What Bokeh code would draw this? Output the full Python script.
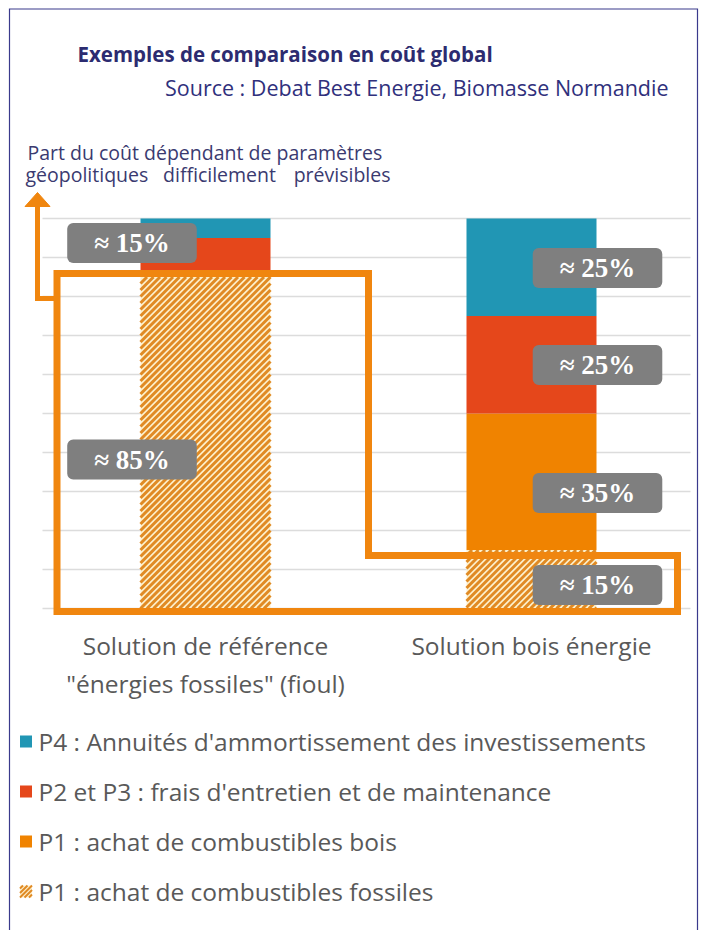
from bokeh.plotting import figure
from bokeh.models import Range1d, Label
from bokeh.embed import file_html
from bokeh.resources import INLINE

# ---------------- data ----------------
categories = ["Solution de référence\n\"énergies fossiles\" (fioul)", "Solution bois énergie"]
p1_fossiles = [85, 15]   # P1 : achat de combustibles fossiles (hatched)
p1_bois = [0, 35]        # P1 : achat de combustibles bois
p2_p3 = [10, 25]         # P2 et P3 : frais d'entretien et de maintenance
p4 = [5, 25]             # P4 : Annuités d'ammortissement des investissements
box_texts = [["≈ 15%", "≈ 85%"], ["≈ 25%", "≈ 25%", "≈ 35%", "≈ 15%"]]
legend_labels = ["P4 : Annuités d'ammortissement des investissements",
                 "P2 et P3 : frais d'entretien et de maintenance",
                 "P1 : achat de combustibles bois",
                 "P1 : achat de combustibles fossiles"]
grid_ticks = list(range(0, 101, 10))

# ---------------- styles ----------------
TEAL, RED, ORANGE = "#2196b4", "#e5471b", "#f08300"
HATCH_BG, HATCH_FG = "#fdf0cc", "#e08a24"
NAVY = "#2c2b70"
GREY_TXT = "#595959"
BOX = "#7f7f7f"
OUTLINE = "#f0860f"

W, H = 702, 930
PXX, PXY = 326.0, 3.9
x0 = -205 / PXX
x1 = x0 + W / PXX
y1 = 608 / PXY
y0 = y1 - H / PXY

def X(px):
    return x0 + px / PXX

def Y(py):
    return (608 - py) / PXY

def stripes(xc, wpx, ybot, ytop, period):
    """diagonal '/' hatch lines clipped to a rectangle (x centre in data, width in px)."""
    xa = xc * PXX - wpx / 2.0
    xb = xa + wpx
    ya, yb = ybot * PXY, ytop * PXY
    sx0, sy0, sx1, sy1 = [], [], [], []
    k = int((ya - xb) // period) - 1
    while k * period <= yb - xa:
        c = k * period
        xs, xe = max(xa, ya - c), min(xb, yb - c)
        if xe > xs:
            sx0.append(xs / PXX); sy0.append((xs + c) / PXY)
            sx1.append(xe / PXX); sy1.append((xe + c) / PXY)
        k += 1
    return sx0, sy0, sx1, sy1

p = figure(width=W, height=H, x_range=Range1d(x0, x1), y_range=Range1d(y0, y1),
           output_backend="svg", toolbar_location=None, min_border=0,
           x_axis_location=None, y_axis_location=None)
p.grid.visible = False
p.outline_line_color = None
p.background_fill_color = "white"

# page frame (left, top, right)
p.line([X(9), X(9), X(697), X(697)], [Y(935), Y(8.5), Y(8.5), Y(935)],
       line_color="#3a3a8c", line_width=1.2, line_join="miter")

# grid lines
p.segment(x0=X(42), x1=X(690), y0=grid_ticks, y1=grid_ticks, line_color="#dcdcdc", line_width=1.5)

# stacked bars
idx = list(range(len(categories)))
BW_PX = 130
bw = BW_PX / PXX
b0 = [0] * 2
t0 = [a for a in p1_fossiles]
t1 = [a + b for a, b in zip(t0, p1_bois)]
t2 = [a + b for a, b in zip(t1, p2_p3)]
t3 = [a + b for a, b in zip(t2, p4)]
p.vbar(x=idx, width=bw, bottom=b0, top=t0, fill_color=HATCH_BG, line_color=None)
for i in idx:
    a0, c0, a1, c1 = stripes(i, BW_PX, b0[i], t0[i], 6.5)
    p.segment(x0=a0, y0=c0, x1=a1, y1=c1, line_color=HATCH_FG, line_width=3, line_cap="butt")
p.vbar(x=idx, width=bw, bottom=t0, top=t1, fill_color=ORANGE, line_color=None)
p.vbar(x=idx, width=bw, bottom=t1, top=t2, fill_color=RED, line_color=None)
p.vbar(x=idx, width=bw, bottom=t2, top=t3, fill_color=TEAL, line_color=None)

# orange outline around the geopolitically dependent part
L, S, R = X(56.5), 0.5, X(677)
top, step, bot = Y(273), Y(555), Y(611)
p.patch([L, S, S, R, R, L], [top, top, step, step, bot, bot], fill_alpha=0,
        line_color=OUTLINE, line_width=7, line_join="miter")
p.line([X(56.5), X(37), X(37)], [Y(298), Y(298), Y(203)], line_color=OUTLINE,
       line_width=5, line_join="miter")
p.patch([X(37), X(24.5), X(49.5)], [Y(192), Y(206), Y(206)], fill_color=OUTLINE,
        line_color=OUTLINE, line_width=1)

# value boxes
box_py = [[242.5, 459], [267.5, 364.5, 492.5, 584.5]]
box_dx = [-73.5, 66]
for i, texts in enumerate(box_texts):
    for t, py in zip(texts, box_py[i]):
        p.add_layout(Label(x=i, y=Y(py), x_offset=box_dx[i], text=t,
                           text_font="Liberation Serif", text_font_style="bold",
                           text_font_size="27px", text_color="white",
                           text_align="center", text_baseline="middle",
                           background_fill_color=BOX, border_radius=6,
                           padding=(27, 27, 5, 5)))

# titles
p.add_layout(Label(x=X(77), y=Y(53), text="Exemples de comparaison en coût global",
                   text_font="Open Sans", text_font_style="bold", text_font_size="20.5px",
                   text_color=NAVY, text_baseline="middle"))
p.add_layout(Label(x=X(668), y=Y(87), text="Source : Debat Best Energie, Biomasse Normandie",
                   text_font="Open Sans", text_font_size="21.5px", text_color="#30307c",
                   text_baseline="middle", text_align="right"))
p.add_layout(Label(x=X(27), y=Y(152), text="Part du coût dépendant de paramètres",
                   text_font="Open Sans", text_font_size="19.5px", text_color="#3a3a70",
                   text_baseline="middle"))
for t, px, al in [("géopolitiques", 25, "left"), ("difficilement", 219, "center"),
                  ("prévisibles", 390, "right")]:
    p.add_layout(Label(x=X(px), y=Y(174), text=t, text_font="Open Sans",
                       text_font_size="19.5px", text_color="#3a3a70",
                       text_baseline="middle", text_align=al))

# category labels
for i, cat in enumerate(categories):
    for k, line in enumerate(cat.split("\n")):
        p.add_layout(Label(x=i, y=Y(645 + 38 * k), text=line, text_font="Open Sans",
                           text_font_size="24.5px", text_color=GREY_TXT,
                           text_align="center", text_baseline="middle"))

# legend
leg_colors = [TEAL, RED, ORANGE, HATCH_BG]
for k, (lab, col) in enumerate(zip(legend_labels, leg_colors)):
    py = 741 + 50 * k
    p.rect(x=[X(25.5)], y=[Y(py)], width=12, height=12, width_units="screen",
           height_units="screen", line_color=None, fill_color=col)
    if k == 3:
        a0, c0, a1, c1 = stripes(X(25.5), 12, Y(py) - 6 / PXY, Y(py) + 6 / PXY, 4.5)
        p.segment(x0=a0, y0=c0, x1=a1, y1=c1, line_color=HATCH_FG, line_width=2, line_cap="butt")
    p.add_layout(Label(x=X(38), y=Y(py), text=lab, text_font="Open Sans",
                       text_font_size="24.5px", text_color=GREY_TXT, text_baseline="middle"))

open("out.html", "w").write(file_html(p, INLINE))
